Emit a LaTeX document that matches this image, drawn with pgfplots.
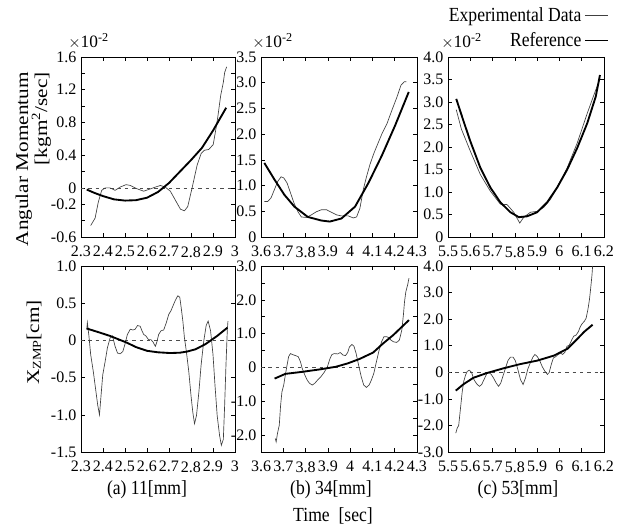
\documentclass[border=0pt]{standalone}
\usepackage{fontspec}
\setmainfont{Liberation Serif}
\newfontfamily\vfont[FakeStretch=1.18]{Liberation Serif}
\newfontfamily\cfont[FakeStretch=0.88]{Liberation Serif}
\usepackage{pgfplots}
\pgfplotsset{compat=1.18}

\pgfplotsset{
  panel/.style={
    scale only axis, anchor=north west, enlargelimits=false,
    axis line style={line width=0.5pt},
    tick align=inside, tick pos=both, ticklabel pos=left,
    major tick length=3pt, tick style={black, line width=0.4pt},
    ticklabel style={font=\fontsize{12}{12}\selectfont},
    xticklabel style={yshift=-3.5pt},
    /pgf/number format/assume math mode=true,
  },
  expd/.style={black!75, line width=0.5pt},
  refd/.style={black, line width=1.4pt},
  zero/.style={black!70, line width=0.5pt, dash pattern=on 2.5pt off 3pt},
}

\begin{document}
\begin{tikzpicture}
\path[use as bounding box] (0pt,0pt) rectangle (466.5pt,-395.25pt);

% ---------------- top row: angular momentum (x 10^-2) ----------------
\begin{axis}[panel, at={(60.75pt,-42.75pt)}, width=115.5pt, height=135pt,
  xmin=2.3, xmax=3, ymin=-0.6, ymax=1.6,
  xtick={2.3,2.4,2.5,2.6,2.7,2.8,2.9,3}, xticklabels={2.3,2.4,2.5,2.6,2.7,2.8,2.9,3},
  ytick={-0.6,-0.4,-0.2,0,0.2,0.4,0.6,0.8,1.0,1.2,1.4,1.6},
  yticklabels={-0.6,,-0.2,0,,0.4,,0.8,,1.2,,1.6}]
  \addplot[zero] coordinates {(2.3,0) (3,0)};
  \addplot[expd] coordinates {(2.344,-0.46) (2.364,-0.37) (2.379,-0.17) (2.394,-0.03)
    (2.41,0.0) (2.432,0.0) (2.455,-0.03) (2.478,0.01) (2.505,0.04) (2.524,0.03)
    (2.554,-0.01) (2.585,-0.04) (2.607,-0.02) (2.638,0.01) (2.661,0.03) (2.683,0.01)
    (2.706,-0.04) (2.729,-0.15) (2.752,-0.26) (2.77,-0.28) (2.785,-0.23) (2.805,0.0)
    (2.828,0.28) (2.846,0.42) (2.861,0.46) (2.881,0.47) (2.901,0.53) (2.912,0.70)
    (2.922,0.87) (2.935,1.13) (2.947,1.29) (2.953,1.41) (2.962,1.48)};
  \addplot[refd] coordinates {(2.326,-0.02) (2.36,-0.06) (2.40,-0.10) (2.45,-0.14)
    (2.50,-0.155) (2.55,-0.15) (2.60,-0.12) (2.65,-0.05) (2.70,0.06) (2.75,0.20)
    (2.80,0.34) (2.85,0.49) (2.90,0.70) (2.93,0.84) (2.96,0.98)};
\end{axis}

\begin{axis}[panel, at={(195.75pt,-42.75pt)}, width=117pt, height=135pt,
  xmin=3.6, xmax=4.3, ymin=0, ymax=3.5,
  xtick={3.6,3.7,3.8,3.9,4,4.1,4.2,4.3}, xticklabels={3.6,3.7,3.8,3.9,4,4.1,4.2,4.3},
  ytick={0,0.5,1,1.5,2,2.5,3,3.5}, yticklabels={0,0.5,1.0,1.5,2.0,2.5,3.0,3.5}]
  \addplot[expd] coordinates {(3.615,0.69) (3.63,0.69) (3.645,0.76) (3.66,0.92)
    (3.675,1.08) (3.69,1.17) (3.702,1.15) (3.717,1.05) (3.733,0.85) (3.748,0.66)
    (3.766,0.49) (3.781,0.39) (3.803,0.38) (3.826,0.43) (3.848,0.49) (3.871,0.53)
    (3.894,0.53) (3.916,0.48) (3.939,0.43) (3.961,0.41) (3.992,0.41) (4.014,0.37)
    (4.029,0.39) (4.044,0.56) (4.059,0.92) (4.074,1.18) (4.089,1.41) (4.105,1.61)
    (4.12,1.77) (4.142,2.0) (4.165,2.20) (4.187,2.46) (4.21,2.72) (4.228,2.95)
    (4.243,3.02) (4.252,3.02)};
  \addplot[refd] coordinates {(3.615,1.44) (3.66,1.12) (3.705,0.82) (3.75,0.59)
    (3.81,0.39) (3.871,0.32) (3.909,0.30) (3.961,0.36) (4.022,0.59) (4.082,1.05)
    (4.142,1.58) (4.202,2.17) (4.263,2.82)};
\end{axis}

\begin{axis}[panel, at={(336pt,-42.75pt)}, width=117pt, height=135pt,
  xmin=5.5, xmax=6.2, ymin=0, ymax=4,
  xtick={5.5,5.6,5.7,5.8,5.9,6,6.1,6.2}, xticklabels={5.5,5.6,5.7,5.8,5.9,6,6.1,6.2},
  ytick={0,0.5,1,1.5,2,2.5,3,3.5,4}, yticklabels={0,0.5,1.0,1.5,2.0,2.5,3.0,3.5,4.0},
  legend plot pos=right, legend cell align=right,
  legend style={draw=none, fill=none, at={(1.045,1.30)}, anchor=north east,
    font=\cfont\fontsize{15}{15}\selectfont, row sep=3pt, inner sep=1pt},
  legend image code/.code={\draw[#1] (0cm,0cm) -- (0.62cm,0cm);}]
  \addplot[expd] coordinates {(5.537,2.83) (5.56,2.40) (5.60,1.91) (5.645,1.39)
    (5.69,1.02) (5.735,0.73) (5.765,0.72) (5.795,0.55) (5.822,0.31) (5.84,0.44)
    (5.87,0.55) (5.90,0.57) (5.93,0.66) (5.96,0.84) (5.99,1.10) (6.035,1.54)
    (6.08,2.09) (6.125,2.75) (6.155,3.16) (6.182,3.52)};
  \addlegendentry{Experimental Data}
  \addplot[refd] coordinates {(5.537,3.07) (5.57,2.57) (5.60,2.13) (5.645,1.54)
    (5.69,1.10) (5.735,0.77) (5.78,0.55) (5.818,0.44) (5.855,0.46) (5.90,0.55)
    (5.945,0.77) (5.99,1.10) (6.035,1.50) (6.08,1.98) (6.125,2.53) (6.163,3.12)
    (6.182,3.60)};
  \addlegendentry{Reference}
\end{axis}

% ---------------- bottom row: X_ZMP [cm] ----------------
\begin{axis}[panel, at={(60.75pt,-199.5pt)}, width=115.5pt, height=139.5pt,
  xmin=2.3, xmax=3, ymin=-1.5, ymax=1,
  xtick={2.3,2.4,2.5,2.6,2.7,2.8,2.9,3}, xticklabels={2.3,2.4,2.5,2.6,2.7,2.8,2.9,3},
  ytick={-1.5,-1,-0.5,0,0.5,1}, yticklabels={-1.5,-1.0,-0.5,0,0.5,1.0}]
  \addplot[zero] coordinates {(2.3,0) (3,0)};
  \addplot[expd] coordinates {(2.326,0.15) (2.329,0.24) (2.336,0.06) (2.344,-0.19)
    (2.356,-0.42) (2.368,-0.69) (2.376,-0.87) (2.384,-1.0) (2.39,-0.78) (2.399,-0.46)
    (2.41,-0.28) (2.42,-0.10) (2.432,0.03) (2.443,0.06) (2.455,-0.08) (2.466,-0.17)
    (2.478,-0.18) (2.49,-0.15) (2.50,-0.05) (2.511,0.08) (2.524,0.15) (2.536,0.14)
    (2.546,0.15) (2.557,0.20) (2.569,0.19) (2.577,0.13) (2.585,0.08) (2.595,0.06)
    (2.607,0.01) (2.618,0.01) (2.627,-0.02) (2.638,-0.08) (2.645,-0.02) (2.653,0.08)
    (2.664,0.13) (2.676,0.14) (2.688,0.24) (2.699,0.35) (2.709,0.40) (2.719,0.47)
    (2.729,0.54) (2.74,0.60) (2.749,0.58) (2.755,0.45) (2.763,0.26) (2.77,0.04)
    (2.779,-0.15) (2.79,-0.42) (2.80,-0.74) (2.808,-0.96) (2.816,-1.12) (2.825,-1.01)
    (2.836,-0.69) (2.846,-0.33) (2.858,-0.01) (2.869,0.20) (2.878,0.26) (2.889,0.13)
    (2.90,-0.19) (2.909,-0.60) (2.919,-1.01) (2.93,-1.28) (2.938,-1.41) (2.947,-1.33)
    (2.953,-0.87) (2.959,-0.33) (2.965,0.13) (2.968,0.26)};
  \addplot[refd] coordinates {(2.326,0.16) (2.38,0.11) (2.432,0.06) (2.508,-0.03)
    (2.55,-0.09) (2.60,-0.14) (2.65,-0.16) (2.706,-0.17) (2.75,-0.165) (2.782,-0.15)
    (2.82,-0.12) (2.866,-0.05) (2.919,0.06) (2.965,0.17)};
\end{axis}

\begin{axis}[panel, at={(195.75pt,-199.5pt)}, width=117pt, height=139.5pt,
  xmin=3.6, xmax=4.3, ymin=-2.5, ymax=3,
  xtick={3.6,3.7,3.8,3.9,4,4.1,4.2,4.3}, xticklabels={3.6,3.7,3.8,3.9,4,4.1,4.2,4.3},
  ytick={-2.5,-2,-1.5,-1,-0.5,0,0.5,1,1.5,2,2.5,3},
  yticklabels={,-2.0,,-1.0,,0,,1.0,,2.0,,3.0}]
  \addplot[zero] coordinates {(3.6,0) (4.3,0)};
  \addplot[expd] coordinates {(3.664,-2.10) (3.668,-2.20) (3.674,-1.95) (3.682,-1.71)
    (3.688,-1.12) (3.694,-0.72) (3.702,-0.52) (3.709,-0.23) (3.717,0.07) (3.724,0.32)
    (3.732,0.41) (3.742,0.38) (3.755,0.35) (3.767,0.32) (3.777,0.17) (3.785,-0.03)
    (3.797,-0.23) (3.808,-0.38) (3.818,-0.47) (3.83,-0.52) (3.841,-0.47) (3.853,-0.38)
    (3.868,-0.28) (3.883,-0.15) (3.898,0.02) (3.909,0.25) (3.918,0.38) (3.929,0.41)
    (3.944,0.40) (3.956,0.44) (3.967,0.37) (3.979,0.35) (3.989,0.44) (3.997,0.61)
    (4.008,0.68) (4.017,0.63) (4.027,0.41) (4.038,0.07) (4.05,-0.28) (4.061,-0.52)
    (4.073,-0.59) (4.085,-0.52) (4.095,-0.38) (4.106,-0.18) (4.118,0.17) (4.13,0.51)
    (4.141,0.76) (4.152,0.91) (4.164,0.91) (4.174,0.88) (4.183,0.81) (4.194,0.76)
    (4.209,0.74) (4.221,0.81) (4.232,1.11) (4.239,1.55) (4.244,1.94) (4.25,2.24)
    (4.258,2.44) (4.264,2.64)};
  \addplot[refd] coordinates {(3.661,-0.33) (3.709,-0.19) (3.785,-0.13) (3.861,-0.06)
    (3.936,0.02) (3.989,0.12) (4.042,0.25) (4.103,0.44) (4.148,0.71) (4.194,0.96)
    (4.232,1.20) (4.264,1.40)};
\end{axis}

\begin{axis}[panel, at={(336pt,-199.5pt)}, width=117pt, height=139.5pt,
  xmin=5.5, xmax=6.2, ymin=-3, ymax=4,
  xtick={5.5,5.6,5.7,5.8,5.9,6,6.1,6.2}, xticklabels={5.5,5.6,5.7,5.8,5.9,6,6.1,6.2},
  ytick={-3,-2,-1,0,1,2,3,4}, yticklabels={-3.0,-2.0,-1.0,0,1.0,2.0,3.0,4.0}]
  \addplot[zero] coordinates {(5.5,0) (6.2,0)};
  \addplot[expd] coordinates {(5.535,-2.29) (5.541,-2.11) (5.548,-2.0) (5.556,-1.36)
    (5.564,-0.72) (5.571,-0.33) (5.579,-0.10) (5.586,0.03) (5.595,0.08) (5.606,-0.01)
    (5.616,-0.27) (5.629,-0.44) (5.641,-0.53) (5.651,-0.46) (5.662,-0.27) (5.674,-0.05)
    (5.684,-0.01) (5.694,-0.08) (5.704,-0.21) (5.716,-0.40) (5.727,-0.53) (5.737,-0.40)
    (5.749,-0.08) (5.76,0.21) (5.769,0.44) (5.78,0.57) (5.792,0.57) (5.802,0.44)
    (5.813,0.12) (5.825,-0.27) (5.837,-0.46) (5.848,-0.21) (5.858,0.12) (5.87,0.37)
    (5.881,0.57) (5.89,0.67) (5.901,0.59) (5.913,0.41) (5.923,0.21) (5.934,0.05)
    (5.946,-0.08) (5.954,-0.01) (5.964,0.31) (5.973,0.54) (5.984,0.59) (5.994,0.67)
    (6.006,0.72) (6.014,0.67) (6.025,0.76) (6.034,0.98) (6.044,1.02) (6.055,1.21)
    (6.064,1.36) (6.075,1.40) (6.085,1.53) (6.094,1.72) (6.102,1.83) (6.112,1.92)
    (6.12,2.04) (6.128,2.37) (6.135,2.75) (6.14,3.14) (6.146,3.65) (6.149,4.0)};
  \addplot[refd] coordinates {(5.535,-0.69) (5.568,-0.46) (5.613,-0.21) (5.674,-0.03)
    (5.749,0.15) (5.825,0.31) (5.901,0.44) (5.976,0.63) (6.037,0.89) (6.082,1.27)
    (6.112,1.53) (6.149,1.79)};
\end{axis}

% ---------------- labels ----------------
\node[rotate=90, anchor=base east, inner sep=0pt] at (21pt,-54pt)
  {\vfont\fontsize{13.5}{13.5}\selectfont Angular Momentum};
\node[rotate=90, anchor=base east, inner sep=0pt] at (35.25pt,-54pt)
  {\vfont\fontsize{13.5}{13.5}\selectfont [kgm\textsuperscript{2}/sec]};
\node[rotate=90, anchor=base east, inner sep=0pt] at (29.25pt,-225pt)
  {\vfont\fontsize{13.5}{13.5}\selectfont X\raisebox{-1.5pt}{\fontsize{9}{9}\selectfont ZMP}[cm]};

\foreach \xx in {51pt,189pt,330.75pt}
  \node[anchor=base west, inner sep=0pt, font=\fontsize{13}{13}\selectfont]
    at (\xx,-35.5pt) {$\times$10\textsuperscript{-2}};

\node[font=\cfont\fontsize{15}{15}\selectfont] at (110.25pt,-367.5pt) {(a) 11[mm]};
\node[font=\cfont\fontsize{15}{15}\selectfont] at (248.25pt,-367.5pt) {(b) 34[mm]};
\node[font=\cfont\fontsize{15}{15}\selectfont] at (388.5pt,-367.5pt) {(c) 53[mm]};
\node[font=\cfont\fontsize{15}{15}\selectfont] at (249.75pt,-387pt) {Time\ \ [sec]};
\end{tikzpicture}
\end{document}
